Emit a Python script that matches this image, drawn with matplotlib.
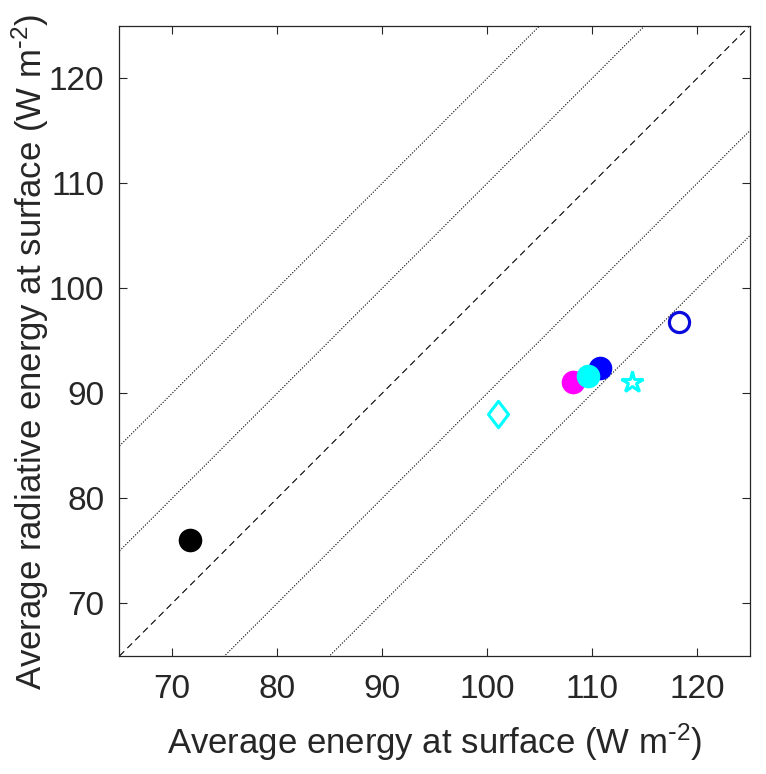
import numpy as np
import matplotlib
matplotlib.use('Agg')
import matplotlib.pyplot as plt
from matplotlib.path import Path

plt.rcParams['font.family'] = ['Liberation Sans', 'DejaVu Sans']
plt.rcParams['mathtext.default'] = 'regular'

# points (x = energy, y = radiative energy), W m-2
names = ['obs', 'diamond', 'magenta', 'blue', 'cyan', 'star', 'open']
x_energy = [71.7, 101.0, 108.2, 110.8, 109.6, 113.8, 118.3]
y_rad = [76.0, 88.0, 91.1, 92.4, 91.7, 91.1, 96.8]

offsets = [-20, -10, 10, 20]
lims = [65, 125]

diamond = Path([(0, 1), (0.76, 0), (0, -1), (-0.76, 0), (0, 1)],
               [Path.MOVETO, Path.LINETO, Path.LINETO, Path.LINETO, Path.CLOSEPOLY])

fig = plt.figure(figsize=(7.66, 7.74), dpi=100)
ax = fig.add_axes([0.156, 0.1525, 0.8225, 0.814])

xx = np.array(lims)
ax.plot(xx, xx, color='k', ls=(0, (6, 4)), lw=0.8)
for o in offsets:
    ax.plot(xx, xx + o, color='k', ls=(0, (1, 1.5)), lw=0.8)

ax.plot(x_energy[0], y_rad[0], 'o', color='k', ms=17, mew=0)
ax.plot(x_energy[1], y_rad[1], marker=diamond, ls='none', mfc='none',
        mec='#00FFFF', ms=19, mew=2.2)
ax.plot(x_energy[2], y_rad[2], 'o', color='#FF00FF', ms=17, mew=0)
ax.plot(x_energy[3], y_rad[3], 'o', color='#0000FF', ms=17, mew=0)
ax.plot(x_energy[4], y_rad[4], 'o', color='#00FFFF', ms=17, mew=0)
ax.plot(x_energy[5], y_rad[5], '*', mfc='none', mec='#00FFFF', ms=16, mew=2.2)
ax.plot(x_energy[6], y_rad[6], 'o', mfc='none', mec='#0A0ADC', ms=14.5, mew=2.3)

ax.set_xlim(lims)
ax.set_ylim(lims)
ax.set_xticks([70, 80, 90, 100, 110, 120])
ax.set_yticks([70, 80, 90, 100, 110, 120])
ax.tick_params(direction='in', length=6, width=0.8, top=True, right=True,
               labelsize=24, colors='#262626', pad=11)
ax.tick_params(axis='x', pad=13)
for s in ax.spines.values():
    s.set_color('#262626')
    s.set_linewidth(0.9)

ax.set_xlabel(r'Average energy at surface (W m$^{\text{-}2}$)', fontsize=25,
              color='#262626', labelpad=12)
ax.set_ylabel(r'Average radiative energy at surface (W m$^{\text{-}2}$)', fontsize=25,
              color='#262626')
ax.yaxis.set_label_coords(-0.108, 0.482)

fig.savefig('out.png', dpi=100)
